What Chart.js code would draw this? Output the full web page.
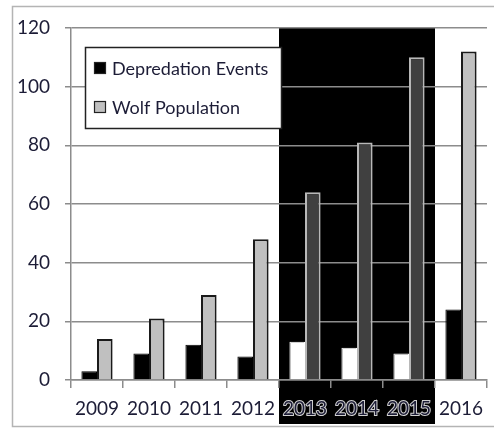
<!DOCTYPE html>
<html>
<head>
<meta charset="utf-8">
<script src="https://cdn.jsdelivr.net/npm/chart.js@4"></script>
<style>
  html, body { margin: 0; padding: 0; background: #fff; }
  #wrap { width: 494px; height: 428px; }
</style>
</head>
<body>
<div id="wrap"><canvas id="chart" width="494" height="428"></canvas></div>
<script>
const years = ['2009', '2010', '2011', '2012', '2013', '2014', '2015', '2016'];
const depredationEvents = [3, 9, 12, 8, 13, 11, 9, 24];
const wolfPopulation = [14, 21, 29, 48, 64, 81, 110, 112];
const shadedYears = ['2013', '2014', '2015'];
const yTicks = [0, 20, 40, 60, 80, 100, 120];

const FONT = 'Lato';
const TEXT = '#1c1c36';
const GRID = '#8c8c8c';

const isShaded = i => shadedYears.includes(years[i]);

// black band behind 2013-2015, down through the tick labels
const shadePlugin = {
  id: 'shade',
  beforeDraw: (chart) => {
    const {ctx, chartArea} = chart;
    const x = chart.scales.x;
    const step = x.width / years.length;
    const first = years.indexOf(shadedYears[0]);
    const last = years.indexOf(shadedYears[shadedYears.length - 1]);
    const left = x.getPixelForValue(first) - step / 2;
    const right = x.getPixelForValue(last) + step / 2;
    ctx.save();
    ctx.fillStyle = '#000';
    ctx.fillRect(left, chartArea.top - 1, right - left, chart.height - 3 - chartArea.top);
    ctx.restore();
  }
};

// legend box inside the plot + outer frame
const boxLegend = {
  id: 'boxLegend',
  afterDraw: (chart) => {
    const {ctx} = chart;
    ctx.save();
    ctx.fillStyle = '#fff';
    ctx.fillRect(85, 47, 196, 81);
    ctx.strokeStyle = '#222';
    ctx.lineWidth = 1.5;
    ctx.strokeRect(85.5, 47.5, 196, 81);
    const rows = [
      {label: chart.data.datasets[0].label, fill: '#000', y: 68},
      {label: chart.data.datasets[1].label, fill: '#c0c0c0', y: 107},
    ];
    ctx.font = '18px ' + FONT;
    ctx.textBaseline = 'middle';
    for (const r of rows) {
      ctx.fillStyle = r.fill;
      ctx.fillRect(94, r.y - 6, 12, 12);
      ctx.strokeStyle = '#222';
      ctx.lineWidth = 1.2;
      ctx.strokeRect(94.5, r.y - 5.5, 11, 11);
      ctx.fillStyle = TEXT;
      ctx.fillText(r.label, 112, r.y + 1);
    }
    ctx.strokeStyle = '#b4b4b4';
    ctx.lineWidth = 1.5;
    ctx.strokeRect(12.5, 6.5, 490, 420);
    ctx.restore();
  }
};

new Chart(document.getElementById('chart'), {
  type: 'bar',
  data: {
    labels: years,
    datasets: [
      {
        label: 'Depredation Events',
        data: depredationEvents,
        backgroundColor: years.map((y, i) => isShaded(i) ? '#ffffff' : '#000000'),
        borderColor: years.map((y, i) => isShaded(i) ? '#ffffff' : '#000000'),
        borderWidth: 1,
      },
      {
        label: 'Wolf Population',
        data: wolfPopulation,
        backgroundColor: years.map((y, i) => isShaded(i) ? '#404040' : '#c0c0c0'),
        borderColor: years.map((y, i) => isShaded(i) ? '#b8b8b8' : '#1a1a1a'),
        borderWidth: 2,
      }
    ]
  },
  options: {
    responsive: false,
    animation: false,
    categoryPercentage: 0.6,
    barPercentage: 1.0,
    layout: {padding: {top: 28, right: 7, left: 0, bottom: 0}},
    scales: {
      x: {
        afterFit: s => { s.height = 48; },
        border: {color: GRID, width: 1.5},
        grid: {drawOnChartArea: false, drawTicks: true, tickLength: 8, color: GRID, lineWidth: 1.5, offset: true},
        ticks: {
          color: TEXT,
          padding: 9,
          font: {family: FONT, size: 19},
          textStrokeColor: c => isShaded(c.index) ? '#d0d0d0' : 'rgba(0,0,0,0)',
          textStrokeWidth: c => isShaded(c.index) ? 2 : 0,
        }
      },
      y: {
        min: 0,
        max: 120,
        afterFit: s => { s.width = 71; },
        afterBuildTicks: s => { s.ticks = yTicks.map(v => ({value: v})); },
        border: {color: GRID, width: 1.5},
        grid: {color: GRID, lineWidth: 1.5, tickLength: 6},
        ticks: {color: TEXT, padding: 15, font: {family: FONT, size: 19}}
      }
    },
    plugins: {
      legend: {display: false},
      tooltip: {enabled: false}
    }
  },
  plugins: [shadePlugin, boxLegend]
});
</script>
</body>
</html>
